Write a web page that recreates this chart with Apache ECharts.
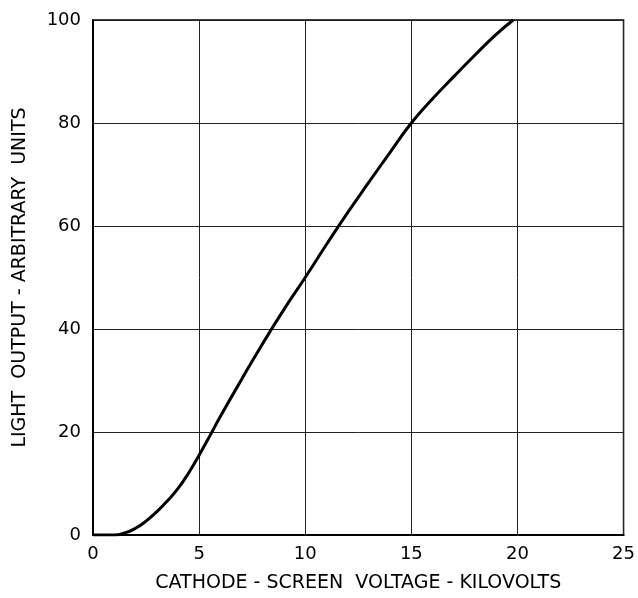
<!DOCTYPE html>
<html>
<head>
<meta charset="utf-8">
<script src="https://cdn.jsdelivr.net/npm/echarts@6/dist/echarts.min.js"></script>
<style>
html,body{margin:0;padding:0;background:#fff;}
#chart{width:638px;height:598px;}
</style>
</head>
<body>
<div id="chart"></div>
<script>
const voltageKV = [0, 1, 1.5, 2, 2.5, 3, 3.5, 4, 4.5, 5, 5.5, 6, 7, 8, 9, 10, 11, 12, 13, 14, 15, 16, 17, 18, 19, 19.8];
const lightOutput = [0, 0, 0.4, 1.3, 2.7, 4.5, 6.6, 9, 12, 15.5, 19.2, 23, 30.2, 37.2, 43.8, 50, 56.4, 62.6, 68.5, 74.3, 80, 84.7, 89, 93.2, 97.2, 100];
const xTicks = [0, 5, 10, 15, 20, 25];
const yTicks = [0, 20, 40, 60, 80, 100];
const xTitle = 'CATHODE - SCREEN  VOLTAGE - KILOVOLTS';
const yTitle = 'LIGHT  OUTPUT - ARBITRARY  UNITS';

const FONT = 'DejaVu Sans';
const chart = echarts.init(document.getElementById('chart'), null, {renderer: 'canvas'});
chart.setOption({
  animation: false,
  backgroundColor: '#ffffff',
  grid: {left: 93, right: 13, top: 20, bottom: 62, show: true, borderColor: '#000', borderWidth: 1.5},
  xAxis: {
    type: 'value', min: xTicks[0], max: xTicks[xTicks.length - 1], interval: 5,
    name: xTitle, nameLocation: 'middle', nameGap: 39,
    nameTextStyle: {fontFamily: FONT, fontSize: 19, color: '#000'},
    axisLine: {show: true, onZero: false, lineStyle: {color: '#000', width: 2}},
    axisTick: {show: false},
    axisLabel: {fontFamily: FONT, fontSize: 18, color: '#000', margin: 10},
    splitLine: {show: true, lineStyle: {color: '#222', width: 1}}
  },
  yAxis: {
    type: 'value', min: yTicks[0], max: yTicks[yTicks.length - 1], interval: 20,
    name: yTitle, nameLocation: 'middle', nameGap: 63, nameRotate: 90,
    nameTextStyle: {fontFamily: FONT, fontSize: 19, color: '#000'},
    axisLine: {show: true, onZero: false, lineStyle: {color: '#000', width: 2}},
    axisTick: {show: false},
    axisLabel: {fontFamily: FONT, fontSize: 18, color: '#000', margin: 12},
    splitLine: {show: true, lineStyle: {color: '#222', width: 1}}
  },
  series: [{
    type: 'line',
    data: voltageKV.map((v, i) => [v, lightOutput[i]]),
    smooth: 0.5,
    showSymbol: false,
    lineStyle: {color: '#000', width: 3}
  }]
});
</script>
</body>
</html>
